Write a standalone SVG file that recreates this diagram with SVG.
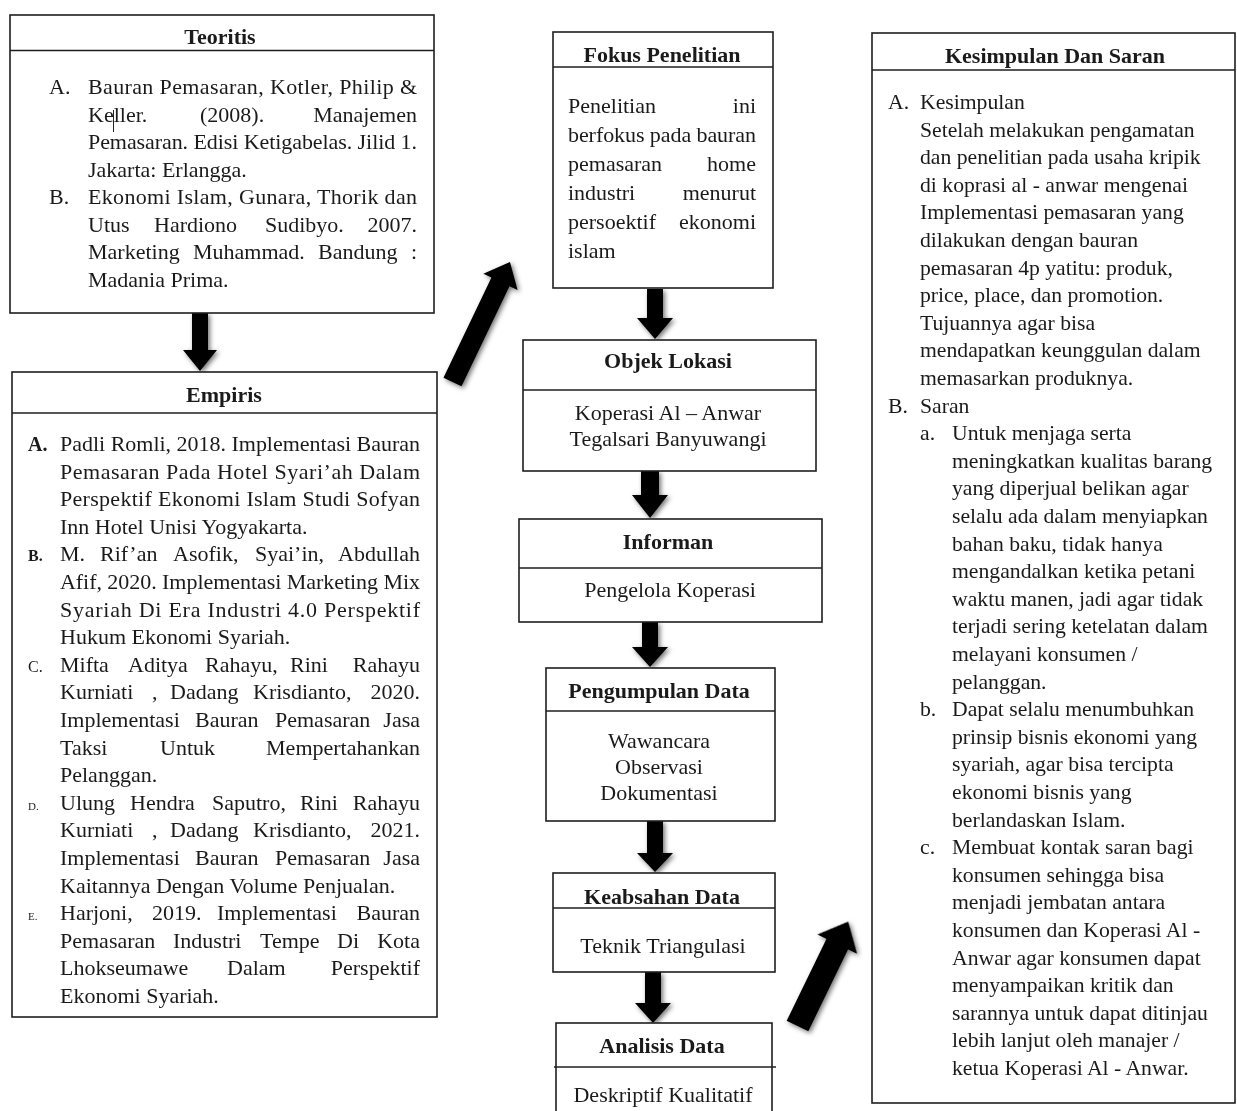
<svg xmlns="http://www.w3.org/2000/svg" width="1237" height="1111" viewBox="0 0 1237 1111">
<style>
.box{fill:#fff;stroke:#1e1e1e;stroke-width:1.6}
.sep{stroke:#1e1e1e;stroke-width:1.6;fill:none}
.t{font-family:"Liberation Serif","Times New Roman",serif;font-size:22px;fill:#1a1a1a}
.h{font-weight:bold;text-anchor:middle}
.c{text-anchor:middle}
.e{text-anchor:end}
.r{font-size:21.7px}
.lb{font-weight:bold}
.arrow{fill:#000}
</style>
<defs>
<filter id="sh" x="-40%" y="-40%" width="180%" height="180%">
<feGaussianBlur in="SourceAlpha" stdDeviation="2.5"/>
<feOffset dx="2" dy="2" result="b"/>
<feFlood flood-color="#000" flood-opacity="0.55"/>
<feComposite in2="b" operator="in"/>
<feMerge><feMergeNode/><feMergeNode in="SourceGraphic"/></feMerge>
</filter>
</defs>
<rect width="1237" height="1111" fill="#fff"/>

<g id="connectors">
<g filter="url(#sh)">
<path class="arrow" d="M192,313 H208 V350 H217 L200,371 L183,350 H192 Z"/>
<path class="arrow" d="M647,289 H663 V318 H673 L655,339 L637,318 H647 Z"/>
<path class="arrow" d="M641,471 H659 V495 H668 L650,518 L632,495 H641 Z"/>
<path class="arrow" d="M642,622 H658 V647 H668 L650,667 L632,647 H642 Z"/>
<path class="arrow" d="M647,821 H663 V853 H673 L655,872 L637,853 H647 Z"/>
<path class="arrow" d="M645,972 H661 V1003 H671 L653,1023 L635,1003 H645 Z"/>
<path class="arrow" transform="translate(452.5,382) rotate(-64.4)" d="M0,-10 H111 V-19 L133,0 L111,19 V10 H0 Z"/>
<path class="arrow" transform="translate(797.5,1026) rotate(-64.1)" d="M0,-12 H91 V-22 L116,0 L91,22 V12 H0 Z"/>
</g>
</g>

<g id="teoritis">
<rect class="box" x="10" y="15" width="424" height="298"/>
<line class="sep" x1="10" y1="50.5" x2="434" y2="50.5"/>
<text class="t h" x="220" y="44">Teoritis</text>
<text class="t" x="49" y="94">A.</text>
<text class="t" x="88" y="94" textLength="329" lengthAdjust="spacing">Bauran Pemasaran, Kotler, Philip &amp;</text>
<text class="t" x="88" y="121.6">Keller.</text>
<text class="t" x="200" y="121.6">(2008).</text>
<text class="t e" x="417" y="121.6">Manajemen</text>
<line x1="113.5" y1="110" x2="113.5" y2="132" stroke="#222" stroke-width="1"/>
<text class="t" x="88" y="149" textLength="329" lengthAdjust="spacing">Pemasaran. Edisi Ketigabelas. Jilid 1.</text>
<text class="t" x="88" y="176.7">Jakarta: Erlangga.</text>
<text class="t" x="49" y="204.3">B.</text>
<text class="t" x="88" y="204.3" textLength="329" lengthAdjust="spacing">Ekonomi Islam, Gunara, Thorik dan</text>
<text class="t" x="88" y="231.9">Utus</text>
<text class="t" x="154" y="231.9">Hardiono</text>
<text class="t" x="265" y="231.9">Sudibyo.</text>
<text class="t e" x="417" y="231.9">2007.</text>
<text class="t" x="88" y="259.4">Marketing</text>
<text class="t" x="193" y="259.4">Muhammad.</text>
<text class="t" x="318" y="259.4">Bandung</text>
<text class="t e" x="417" y="259.4">:</text>
<text class="t" x="88" y="287">Madania Prima.</text>
</g>

<g id="empiris">
<rect class="box" x="12" y="372" width="425" height="645"/>
<line class="sep" x1="12" y1="413" x2="437" y2="413"/>
<text class="t h" x="224" y="402">Empiris</text>
<text class="t lb" x="28" y="451" style="font-size:20px">A.</text>
<text class="t" x="60" y="451" textLength="360" lengthAdjust="spacing">Padli Romli, 2018. Implementasi Bauran</text>
<text class="t" x="60" y="478.6" textLength="360" lengthAdjust="spacing">Pemasaran Pada Hotel Syari’ah Dalam</text>
<text class="t" x="60" y="506.2" textLength="360" lengthAdjust="spacing">Perspektif Ekonomi Islam Studi Sofyan</text>
<text class="t" x="60" y="533.8">Inn Hotel Unisi Yogyakarta.</text>
<text class="t lb" x="28" y="561.4" style="font-size:16px">B.</text>
<text class="t" x="60" y="561.4">M.</text>
<text class="t" x="100" y="561.4">Rif’an</text>
<text class="t" x="173" y="561.4">Asofik,</text>
<text class="t" x="255" y="561.4">Syai’in,</text>
<text class="t e" x="420" y="561.4">Abdullah</text>
<text class="t" x="60" y="589" textLength="360" lengthAdjust="spacing">Afif, 2020. Implementasi Marketing Mix</text>
<text class="t" x="60" y="616.6" textLength="360" lengthAdjust="spacing">Syariah Di Era Industri 4.0 Perspektif</text>
<text class="t" x="60" y="644.2">Hukum Ekonomi Syariah.</text>
<text class="t" x="28" y="671.8" style="font-size:16px">C.</text>
<text class="t" x="60" y="671.8">Mifta</text>
<text class="t" x="128" y="671.8">Aditya</text>
<text class="t" x="205" y="671.8">Rahayu,</text>
<text class="t" x="290" y="671.8">Rini</text>
<text class="t e" x="420" y="671.8">Rahayu</text>
<text class="t" x="60" y="699.4">Kurniati</text>
<text class="t" x="152" y="699.4">,</text>
<text class="t" x="170" y="699.4">Dadang</text>
<text class="t" x="253" y="699.4">Krisdianto,</text>
<text class="t e" x="420" y="699.4">2020.</text>
<text class="t" x="60" y="727">Implementasi</text>
<text class="t" x="195" y="727">Bauran</text>
<text class="t" x="275" y="727">Pemasaran</text>
<text class="t e" x="420" y="727">Jasa</text>
<text class="t" x="60" y="754.6">Taksi</text>
<text class="t" x="160" y="754.6">Untuk</text>
<text class="t e" x="420" y="754.6">Mempertahankan</text>
<text class="t" x="60" y="782.2">Pelanggan.</text>
<text class="t" x="28" y="809.8" style="font-size:11px">D.</text>
<text class="t" x="60" y="809.8">Ulung</text>
<text class="t" x="130" y="809.8">Hendra</text>
<text class="t" x="212" y="809.8">Saputro,</text>
<text class="t" x="300" y="809.8">Rini</text>
<text class="t e" x="420" y="809.8">Rahayu</text>
<text class="t" x="60" y="837.4">Kurniati</text>
<text class="t" x="152" y="837.4">,</text>
<text class="t" x="170" y="837.4">Dadang</text>
<text class="t" x="253" y="837.4">Krisdianto,</text>
<text class="t e" x="420" y="837.4">2021.</text>
<text class="t" x="60" y="865">Implementasi</text>
<text class="t" x="195" y="865">Bauran</text>
<text class="t" x="275" y="865">Pemasaran</text>
<text class="t e" x="420" y="865">Jasa</text>
<text class="t" x="60" y="892.6">Kaitannya Dengan Volume Penjualan.</text>
<text class="t" x="28" y="920.2" style="font-size:11px">E.</text>
<text class="t" x="60" y="920.2">Harjoni,</text>
<text class="t" x="152" y="920.2">2019.</text>
<text class="t" x="217" y="920.2">Implementasi</text>
<text class="t e" x="420" y="920.2">Bauran</text>
<text class="t" x="60" y="947.8">Pemasaran</text>
<text class="t" x="173" y="947.8">Industri</text>
<text class="t" x="260" y="947.8">Tempe</text>
<text class="t" x="337" y="947.8">Di</text>
<text class="t e" x="420" y="947.8">Kota</text>
<text class="t" x="60" y="975.4">Lhokseumawe</text>
<text class="t" x="227" y="975.4">Dalam</text>
<text class="t e" x="420" y="975.4">Perspektif</text>
<text class="t" x="60" y="1003">Ekonomi Syariah.</text>
</g>

<g id="fokus">
<rect class="box" x="553" y="32" width="220" height="256"/>
<line class="sep" x1="553" y1="67" x2="773" y2="67"/>
<text class="t h" x="662" y="62">Fokus Penelitian</text>
<text class="t" x="568" y="113">Penelitian</text>
<text class="t e" x="756" y="113">ini</text>
<text class="t" x="568" y="142" textLength="188" lengthAdjust="spacing">berfokus pada bauran</text>
<text class="t" x="568" y="171">pemasaran</text>
<text class="t e" x="756" y="171">home</text>
<text class="t" x="568" y="200">industri</text>
<text class="t e" x="756" y="200">menurut</text>
<text class="t" x="568" y="229">persoektif</text>
<text class="t e" x="756" y="229">ekonomi</text>
<text class="t" x="568" y="258">islam</text>
</g>

<g id="objek">
<rect class="box" x="523" y="340" width="293" height="131"/>
<line class="sep" x1="523" y1="390" x2="816" y2="390"/>
<text class="t h" x="668" y="368">Objek Lokasi</text>
<text class="t c" x="668" y="420">Koperasi Al – Anwar</text>
<text class="t c" x="668" y="446">Tegalsari Banyuwangi</text>
</g>

<g id="informan">
<rect class="box" x="519" y="519" width="303" height="103"/>
<line class="sep" x1="519" y1="568" x2="822" y2="568"/>
<text class="t h" x="668" y="549">Informan</text>
<text class="t c" x="670" y="597">Pengelola Koperasi</text>
</g>

<g id="pengumpulan">
<rect class="box" x="546" y="668" width="229" height="153"/>
<line class="sep" x1="546" y1="711" x2="775" y2="711"/>
<text class="t h" x="659" y="698">Pengumpulan Data</text>
<text class="t c" x="659" y="748">Wawancara</text>
<text class="t c" x="659" y="774">Observasi</text>
<text class="t c" x="659" y="800">Dokumentasi</text>
</g>

<g id="keabsahan">
<rect class="box" x="553" y="873" width="222" height="99"/>
<line class="sep" x1="553" y1="908" x2="775" y2="908"/>
<text class="t h" x="662" y="904">Keabsahan Data</text>
<text class="t c" x="663" y="953">Teknik Triangulasi</text>
</g>

<g id="analisis">
<rect class="box" x="556" y="1023" width="216" height="100"/>
<line class="sep" x1="554" y1="1067" x2="776" y2="1067"/>
<text class="t h" x="662" y="1053">Analisis Data</text>
<text class="t c" x="663" y="1102">Deskriptif Kualitatif</text>
</g>

<g id="kesimpulan">
<rect class="box" x="872" y="33" width="363" height="1070"/>
<line class="sep" x1="872" y1="70" x2="1235" y2="70"/>
<text class="t h" x="1055" y="63">Kesimpulan Dan Saran</text>
<text class="t r" x="888" y="109">A.</text>
<text class="t r" x="920" y="109">Kesimpulan</text>
<text class="t r" x="920" y="136.6">Setelah melakukan pengamatan</text>
<text class="t r" x="920" y="164.2">dan penelitian pada usaha kripik</text>
<text class="t r" x="920" y="191.8">di koprasi al - anwar mengenai</text>
<text class="t r" x="920" y="219.4">Implementasi pemasaran yang</text>
<text class="t r" x="920" y="247">dilakukan dengan bauran</text>
<text class="t r" x="920" y="274.6">pemasaran 4p yatitu: produk,</text>
<text class="t r" x="920" y="302.2">price, place, dan promotion.</text>
<text class="t r" x="920" y="329.8">Tujuannya agar bisa</text>
<text class="t r" x="920" y="357.4">mendapatkan keunggulan dalam</text>
<text class="t r" x="920" y="385">memasarkan produknya.</text>
<text class="t r" x="888" y="412.6">B.</text>
<text class="t r" x="920" y="412.6">Saran</text>
<text class="t r" x="920" y="440.2">a.</text>
<text class="t r" x="952" y="440.2">Untuk menjaga serta</text>
<text class="t r" x="952" y="467.8">meningkatkan kualitas barang</text>
<text class="t r" x="952" y="495.4">yang diperjual belikan agar</text>
<text class="t r" x="952" y="523">selalu ada dalam menyiapkan</text>
<text class="t r" x="952" y="550.6">bahan baku, tidak hanya</text>
<text class="t r" x="952" y="578.2">mengandalkan ketika petani</text>
<text class="t r" x="952" y="605.8">waktu manen, jadi agar tidak</text>
<text class="t r" x="952" y="633.4">terjadi sering ketelatan dalam</text>
<text class="t r" x="952" y="661">melayani konsumen /</text>
<text class="t r" x="952" y="688.6">pelanggan.</text>
<text class="t r" x="920" y="716.2">b.</text>
<text class="t r" x="952" y="716.2">Dapat selalu menumbuhkan</text>
<text class="t r" x="952" y="743.8">prinsip bisnis ekonomi yang</text>
<text class="t r" x="952" y="771.4">syariah, agar bisa tercipta</text>
<text class="t r" x="952" y="799">ekonomi bisnis yang</text>
<text class="t r" x="952" y="826.6">berlandaskan Islam.</text>
<text class="t r" x="920" y="854.2">c.</text>
<text class="t r" x="952" y="854.2">Membuat kontak saran bagi</text>
<text class="t r" x="952" y="881.8">konsumen sehingga bisa</text>
<text class="t r" x="952" y="909.4">menjadi jembatan antara</text>
<text class="t r" x="952" y="937">konsumen dan Koperasi Al -</text>
<text class="t r" x="952" y="964.6">Anwar agar konsumen dapat</text>
<text class="t r" x="952" y="992.2">menyampaikan kritik dan</text>
<text class="t r" x="952" y="1019.8">sarannya untuk dapat ditinjau</text>
<text class="t r" x="952" y="1047.4">lebih lanjut oleh manajer /</text>
<text class="t r" x="952" y="1075">ketua Koperasi Al - Anwar.</text>
</g>
</svg>
